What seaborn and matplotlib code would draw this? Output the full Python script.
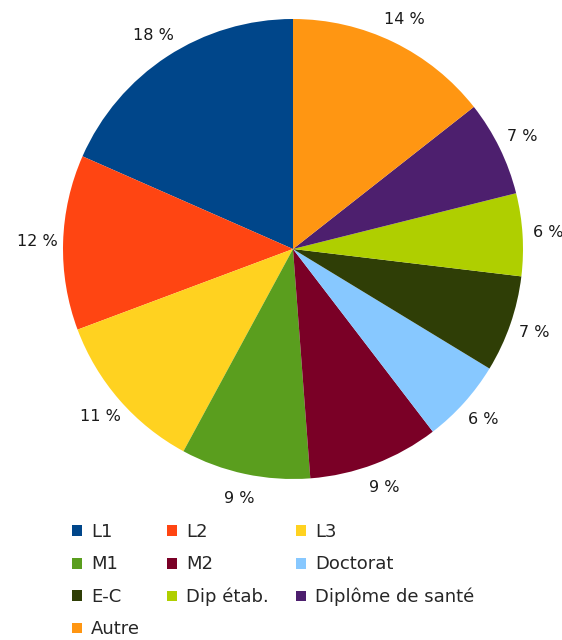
import matplotlib
matplotlib.use('Agg')
import matplotlib.pyplot as plt
import seaborn as sns
from matplotlib.patches import Patch

sns.set_theme(style='white')
plt.rcParams['font.family'] = ['DejaVu Sans']

# data (shares in %)
categories = ['L1', 'L2', 'L3', 'M1', 'M2', 'Doctorat', 'E-C', 'Dip étab.',
              'Diplôme de santé', 'Autre']
shares = [18.4, 12.3, 11.4, 9.1, 9.2, 5.9, 6.8, 5.8, 6.7, 14.4]
colors = ['#00468A', '#FF4512', '#FFD220', '#5A9E1E', '#7A0026', '#87C8FF',
          '#2F3E06', '#AFCF00', '#4D1F6E', '#FF9612']

fig = plt.figure(figsize=(5.62, 6.4), dpi=100)
ax = fig.add_axes([63 / 562, 1 - 479 / 640, 460 / 562, 460 / 640])

wedges, texts, autotexts = ax.pie(
    shares, colors=colors, startangle=90, counterclock=True, radius=1,
    autopct=lambda p: '%d %%' % round(p), pctdistance=1.11,
    wedgeprops={'linewidth': 0, 'edgecolor': 'none'},
    textprops={'fontsize': 11.5, 'color': '#1a1a1a'})
ax.set_xlim(-1, 1)
ax.set_ylim(-1, 1)
ax.set_aspect('equal')
ax.axis('off')

# legend row-major in 3 columns
order = [0, 3, 6, 9, 1, 4, 7, 2, 5, 8]
handles = [Patch(facecolor=colors[i], edgecolor='none') for i in order]
labels = [categories[i] for i in order]
fig.legend(handles, labels, ncol=3, loc='upper left',
           bbox_to_anchor=(63 / 562, 1 - 514 / 640), frameon=False,
           fontsize=13, handlelength=0.55, handleheight=0.55,
           handletextpad=0.5, columnspacing=1.5, labelspacing=0.8,
           borderpad=0)

fig.savefig('out.png', dpi=100)
